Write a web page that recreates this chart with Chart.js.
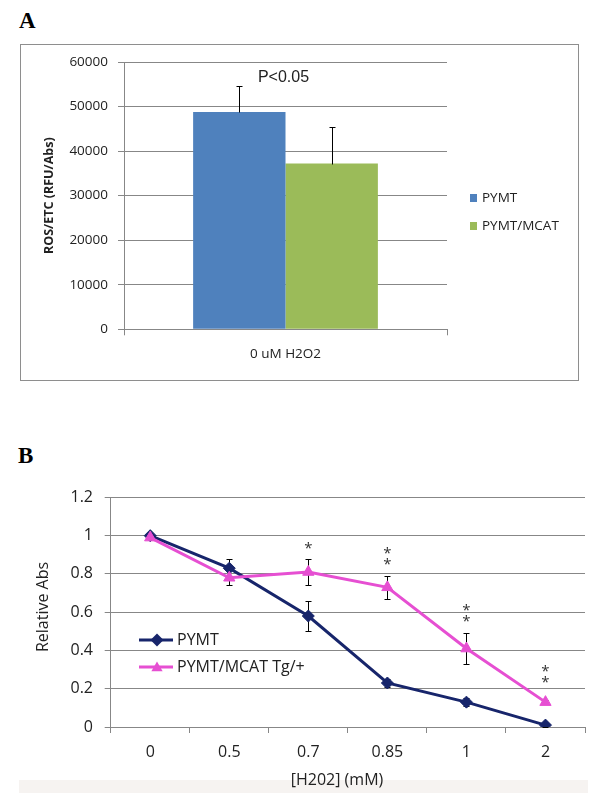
<!DOCTYPE html>
<html>
<head>
<meta charset="utf-8">
<script src="https://cdn.jsdelivr.net/npm/chart.js@4.4.1/dist/chart.umd.min.js"></script>
<style>
  html, body { margin: 0; padding: 0; background: #fff; }
  body { width: 600px; height: 798px; position: relative; overflow: hidden; }
  .panel-label { position: absolute; font-family: 'Liberation Serif', 'Times New Roman', serif; font-weight: bold; font-size: 23px; line-height: 1; color: #000; }
  #boxA { position: absolute; left: 20px; top: 44px; width: 557px; height: 335px; border: 1px solid #8e8e8e; }
  #stripB { position: absolute; left: 19px; top: 780px; width: 569px; height: 13px; background: #f6f3f1; }
  canvas { position: absolute; left: 0; }
  #chartA { top: 0; }
  #chartB { top: 400px; }
</style>
</head>
<body>
<div class="panel-label" style="left:19px; top:9px;">A</div>
<div id="boxA"></div>
<div class="panel-label" style="left:18px; top:444px;">B</div>
<div id="stripB"></div>
<canvas id="chartA" width="600" height="400"></canvas>
<canvas id="chartB" width="600" height="398"></canvas>
<script>
// ---- Panel A data ----
const catsA = ['0 uM H2O2'];
const pymtA = [48800];
const pymtErrA = [5800];
const mcatA = [37200];
const mcatErrA = [8300];
const ticksA = [0, 10000, 20000, 30000, 40000, 50000, 60000];
const pLabelA = 'P<0.05';
const pLabelValueA = 56400;

// ---- Panel B data ----
const dosesB = ['0', '0.5', '0.7', '0.85', '1', '2'];
const pymtB = [1.0, 0.83, 0.58, 0.23, 0.13, 0.01];
const pymtErrB = [0.01, 0.05, 0.08, 0.02, 0.02, 0.01];
const mcatB = [0.99, 0.78, 0.81, 0.73, 0.41, 0.13];
const mcatErrB = [0.01, 0.04, 0.07, 0.06, 0.08, 0.01];
const ticksB = [0, 0.2, 0.4, 0.6, 0.8, 1, 1.2];
const tickLabelsB = ['0', '0.2', '0.4', '0.6', '0.8', '1', '1.2'];
const starCountB = [0, 0, 1, 2, 2, 2];
const starTopB = [null, null, 0.95, 0.925, 0.63, 0.31];

const TEXT = '#222';
const GRID = '#878787';
const FONT = "'Open Sans', sans-serif";

// Draw error bars for every dataset that has an errors array
function drawErrors(chart, plusOnly) {
    const ctx = chart.ctx;
    const y = chart.scales.y;
    ctx.save();
    ctx.strokeStyle = '#000';
    ctx.lineWidth = 1;
    chart.data.datasets.forEach((ds, i) => {
        if (!ds.errors) return;
        chart.getDatasetMeta(i).data.forEach((el, j) => {
            const v = ds.data[j];
            const e = ds.errors[j];
            const x = Math.round(el.x) + 0.5;
            const top = Math.round(y.getPixelForValue(v + e)) + 0.5;
            const bot = Math.round(y.getPixelForValue(plusOnly ? v : v - e)) + 0.5;
            ctx.beginPath();
            ctx.moveTo(x, top);
            ctx.lineTo(x, bot);
            ctx.moveTo(x - 3, top);
            ctx.lineTo(x + 3, top);
            if (!plusOnly) {
                ctx.moveTo(x - 3, bot);
                ctx.lineTo(x + 3, bot);
            }
            ctx.stroke();
        });
    });
    ctx.restore();
}

// Panel A extras: error bars, P value, legend
const extrasA = {
    id: 'extrasA',
    afterDatasetsDraw(chart) {
        drawErrors(chart, true);
    },
    afterDraw(chart) {
        const ctx = chart.ctx;
        const x = chart.scales.x;
        const y = chart.scales.y;
        ctx.save();
        ctx.fillStyle = TEXT;
        ctx.textBaseline = 'middle';
        ctx.textAlign = 'center';
        ctx.font = "16px 'Liberation Sans', Arial, sans-serif";
        ctx.fillText(pLabelA, x.getPixelForValue(0) - 2, y.getPixelForValue(pLabelValueA));

        // legend
        ctx.textAlign = 'left';
        ctx.font = '13.5px ' + FONT;
        chart.data.datasets.forEach((ds, i) => {
            const ly = 198 + i * 28;
            ctx.fillStyle = ds.backgroundColor;
            ctx.fillRect(470, ly - 4, 7, 8);
            ctx.fillStyle = TEXT;
            ctx.fillText(ds.label, 482, ly);
        });
        ctx.restore();
    }
};

new Chart(document.getElementById('chartA'), {
    type: 'bar',
    data: {
        labels: catsA,
        datasets: [
            { label: 'PYMT', data: pymtA, errors: pymtErrA, backgroundColor: '#4f81bd',
              categoryPercentage: 0.572, barPercentage: 1 },
            { label: 'PYMT/MCAT', data: mcatA, errors: mcatErrA, backgroundColor: '#9bbb59',
              categoryPercentage: 0.572, barPercentage: 1 }
        ]
    },
    options: {
        responsive: false,
        animation: false,
        layout: { padding: { left: 0, top: 62, right: 153, bottom: 0 } },
        plugins: { legend: { display: false }, tooltip: { enabled: false } },
        scales: {
            x: {
                grid: { drawOnChartArea: false, offset: true, tickLength: 6, color: GRID },
                border: { color: GRID },
                ticks: { color: TEXT, font: { family: FONT, size: 13.5 }, padding: 10.5 },
                afterFit(s) { s.height = 70.7; }
            },
            y: {
                min: 0,
                max: 60000,
                afterBuildTicks(s) { s.ticks = ticksA.map(v => ({ value: v })); },
                grid: { color: GRID, tickLength: 6 },
                border: { color: GRID },
                ticks: { color: TEXT, font: { family: FONT, size: 13.5 }, padding: 10,
                         callback: v => String(v) },
                title: { display: true, text: 'ROS/ETC (RFU/Abs)', color: TEXT,
                         font: { family: FONT, size: 12.5, weight: 'bold' },
                         padding: { top: 42, bottom: 0 } },
                afterFit(s) { s.width = 124; }
            }
        }
    },
    plugins: [extrasA]
});

// small marker drawing for the custom legend in panel B
function drawMarker(ctx, style, cx, cy, r, color) {
    ctx.fillStyle = color;
    ctx.beginPath();
    if (style === 'rectRot') {
        ctx.moveTo(cx, cy - r);
        ctx.lineTo(cx + r, cy);
        ctx.lineTo(cx, cy + r);
        ctx.lineTo(cx - r, cy);
    } else {
        ctx.moveTo(cx, cy - r);
        ctx.lineTo(cx + r * 0.866, cy + r * 0.5);
        ctx.lineTo(cx - r * 0.866, cy + r * 0.5);
    }
    ctx.closePath();
    ctx.fill();
}

// Panel B extras: error bars, stars, legend, axis titles
const extrasB = {
    id: 'extrasB',
    beforeDatasetsDraw(chart) {
        drawErrors(chart, false);
    },
    afterDraw(chart) {
        const ctx = chart.ctx;
        const x = chart.scales.x;
        const y = chart.scales.y;
        ctx.save();
        ctx.fillStyle = '#333';
        ctx.textAlign = 'center';
        ctx.textBaseline = 'middle';
        ctx.font = '15px ' + FONT;
        starCountB.forEach((n, i) => {
            for (let k = 0; k < n; k++) {
                const py = y.getPixelForValue(starTopB[i]) + k * 11 + 4;
                ctx.fillText('*', x.getPixelForValue(i), py);
            }
        });

        // legend
        ctx.font = '16px ' + FONT;
        ctx.textAlign = 'left';
        chart.data.datasets.forEach((ds, i) => {
            const ly = 240 + i * 27;
            ctx.strokeStyle = ds.borderColor;
            ctx.lineWidth = 3;
            ctx.beginPath();
            ctx.moveTo(139, ly);
            ctx.lineTo(173, ly);
            ctx.stroke();
            drawMarker(ctx, ds.pointStyle, 157, ly + (ds.pointStyle === 'triangle' ? 1 : 0), 6.5, ds.backgroundColor);
            ctx.fillStyle = TEXT;
            ctx.fillText(ds.label, 177, ly);
        });

        // axis titles
        ctx.textAlign = 'center';
        ctx.fillText('[H202] (mM)', 337, 380);
        ctx.translate(43, 207);
        ctx.rotate(-Math.PI / 2);
        ctx.fillText('Relative Abs', 0, 0);
        ctx.restore();
    }
};

new Chart(document.getElementById('chartB'), {
    type: 'line',
    data: {
        labels: dosesB,
        datasets: [
            { label: 'PYMT', data: pymtB, errors: pymtErrB, order: 1,
              borderColor: '#17256b', backgroundColor: '#17256b', borderWidth: 3,
              pointStyle: 'rectRot', pointRadius: 6, pointBorderWidth: 1, tension: 0 },
            { label: 'PYMT/MCAT Tg/+', data: mcatB, errors: mcatErrB, order: 0,
              borderColor: '#e64fd2', backgroundColor: '#e64fd2', borderWidth: 3,
              pointStyle: 'triangle', pointRadius: 6.5, pointBorderWidth: 1, tension: 0 }
        ]
    },
    options: {
        responsive: false,
        animation: false,
        layout: { padding: { left: 0, top: 97.4, right: 15, bottom: 0 } },
        plugins: { legend: { display: false }, tooltip: { enabled: false } },
        scales: {
            x: {
                offset: true,
                grid: { drawOnChartArea: false, offset: true, tickLength: 6, color: GRID },
                border: { color: GRID },
                ticks: { color: TEXT, font: { family: FONT, size: 16 }, padding: 10 },
                afterFit(s) { s.height = 71; }
            },
            y: {
                min: 0,
                max: 1.2,
                afterBuildTicks(s) { s.ticks = ticksB.map(v => ({ value: v })); },
                grid: { color: GRID, tickLength: 6 },
                border: { color: GRID },
                ticks: { color: TEXT, font: { family: FONT, size: 16 }, padding: 11.7,
                         callback: (v, i) => tickLabelsB[i] },
                afterFit(s) { s.width = 110.7; }
            }
        }
    },
    plugins: [extrasB]
});
</script>
</body>
</html>
